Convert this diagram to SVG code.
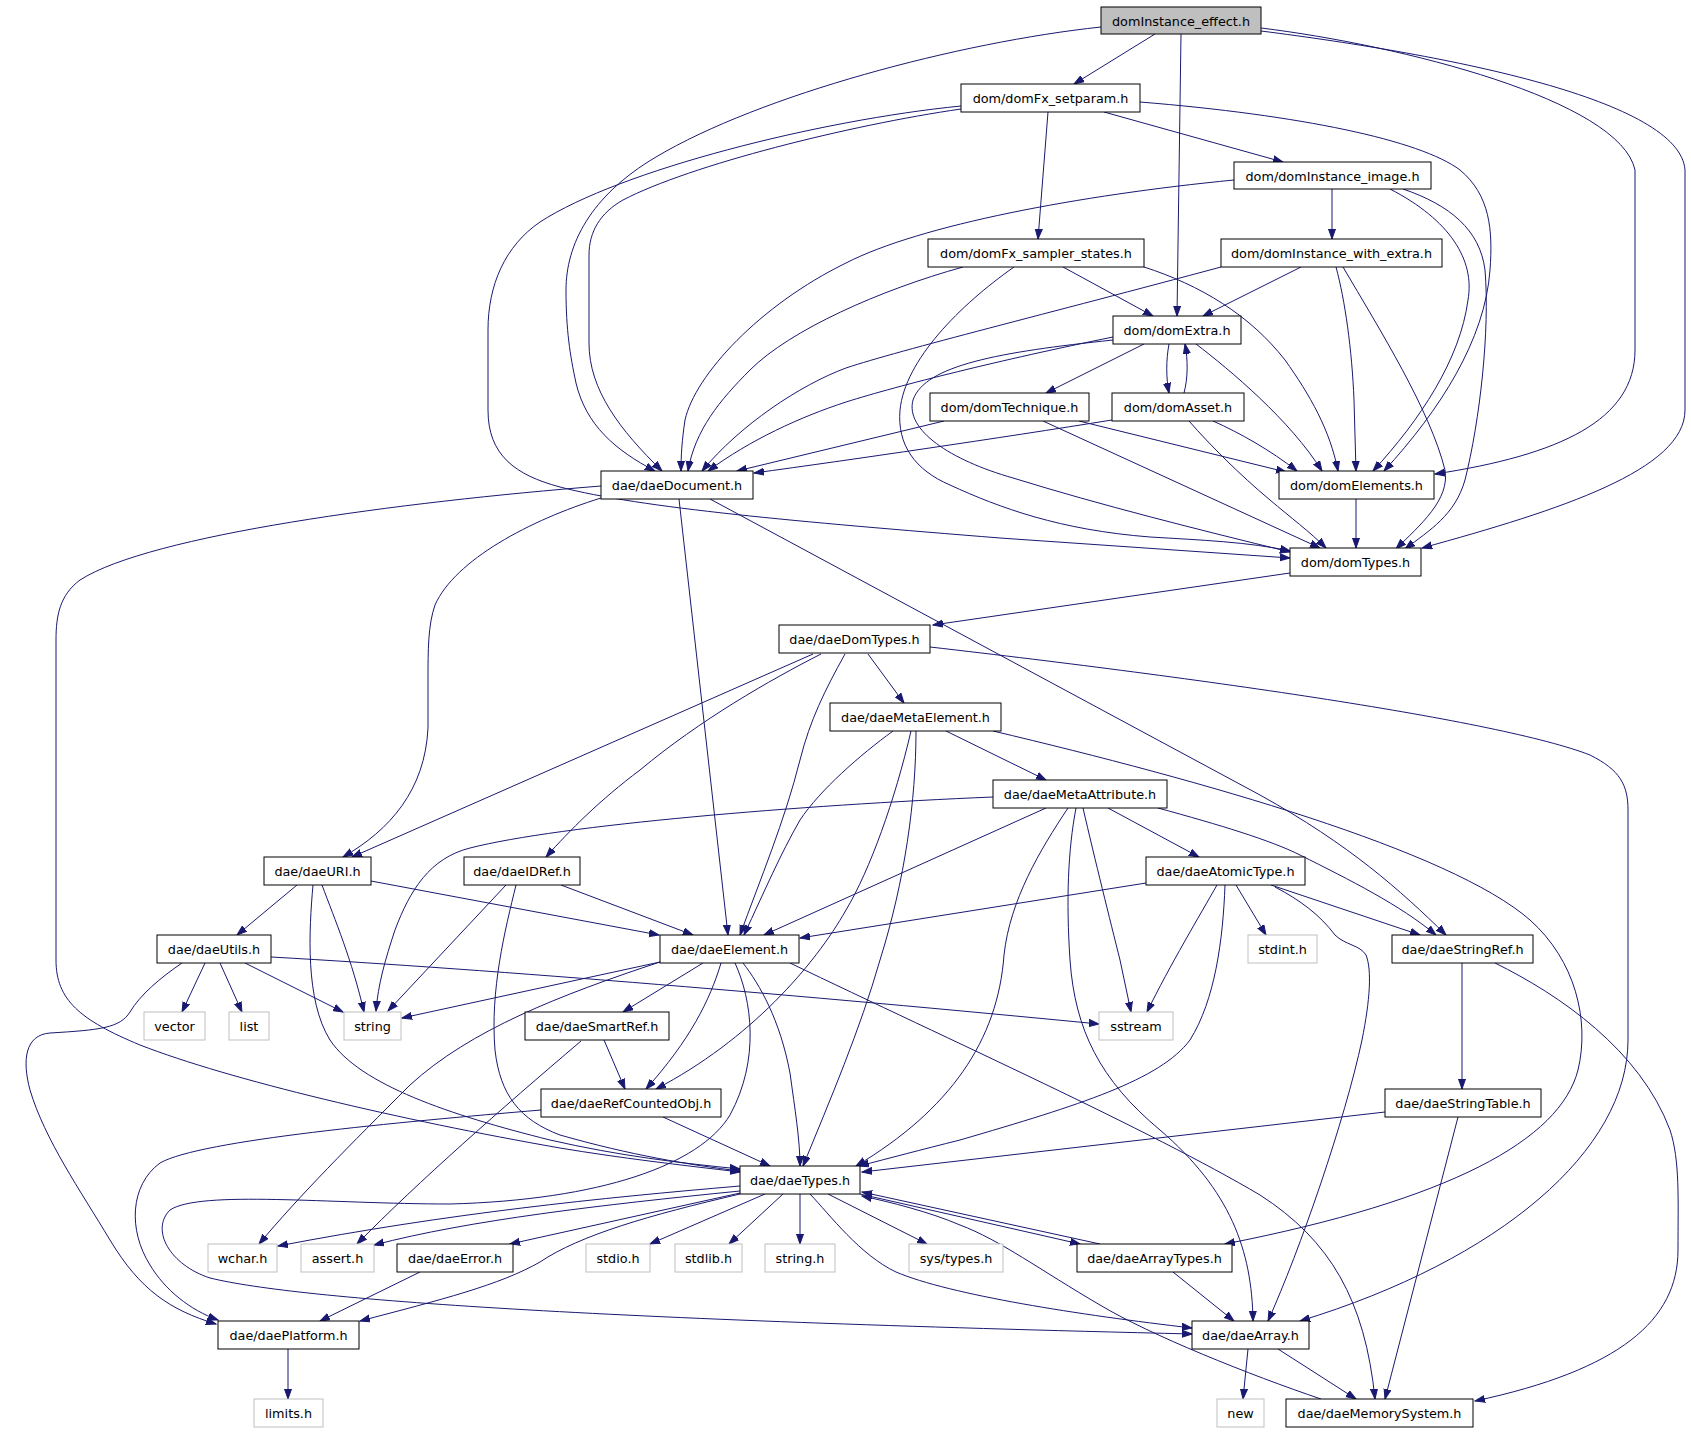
<svg xmlns="http://www.w3.org/2000/svg" width="1691" height="1432" viewBox="0 0 1691 1432">
<defs>
<style>
.n rect{fill:#ffffff;stroke:#000000;stroke-width:1}
.g rect{fill:#ffffff;stroke:#bfbfbf;stroke-width:1}
.r rect{fill:#bfbfbf;stroke:#000000;stroke-width:1}
text{font-family:"DejaVu Sans","Liberation Sans",sans-serif;font-size:12.8px;text-anchor:middle;fill:#000000}
#edges path{fill:none;stroke:#191970;stroke-width:1;marker-end:url(#a)}
</style>
<marker id="a" markerWidth="11" markerHeight="9" refX="10" refY="4" orient="auto" markerUnits="userSpaceOnUse"><path d="M0,0.5 L10,4 L0,7.5 z" fill="#191970" stroke="#191970" stroke-width="1"/></marker>
</defs>
<rect x="0" y="0" width="1691" height="1432" fill="#ffffff"/>
<g id="edges">
<path d="M1155,34 L1074,84"/>
<path d="M1181,34 L1177,316"/>
<path d="M1101,27 C960,42 760,95 656,157 C590,196 566,245 566,290 C566,330 570,355 576,383 C586,425 615,450 655,471"/>
<path d="M1261,28 C1400,45 1620,100 1635,170 L1635,350 C1635,420 1560,455 1435,474"/>
<path d="M1261,31 C1450,55 1680,100 1685,170 L1685,410 C1685,470 1560,510 1422,548"/>
<path d="M1104,112 L1283,162"/>
<path d="M1048,112 L1038,239"/>
<path d="M961,109 C850,125 690,165 623,200 C600,213 589,232 589,255 L589,343 C589,390 620,430 662,471"/>
<path d="M961,106 C820,120 620,170 540,222 C505,246 488,285 488,330 L488,410 C488,455 515,475 560,487 C640,508 800,522 1000,538 L1290,558"/>
<path d="M1140,102 C1300,115 1420,140 1460,170 C1490,195 1493,230 1490,270 C1485,340 1440,410 1384,471"/>
<path d="M1332,189 L1332,239"/>
<path d="M1234,180 C1080,195 920,225 846,263 C760,305 695,375 685,420 C682,440 681,455 681,471"/>
<path d="M1390,189 C1450,220 1475,260 1468,300 C1460,360 1420,420 1373,471"/>
<path d="M1403,189 C1450,205 1480,230 1485,270 C1490,330 1480,420 1465,480 C1455,515 1430,530 1405,549"/>
<path d="M1063,267 L1153,316"/>
<path d="M963,267 C880,290 790,330 750,370 C720,400 695,430 688,471"/>
<path d="M1144,267 C1200,285 1250,315 1285,360 C1310,395 1330,430 1338,471"/>
<path d="M1014,267 C960,305 905,360 900,410 C897,445 915,470 950,485 C1000,508 1060,530 1150,537 C1200,540 1250,542 1290,551"/>
<path d="M1301,267 L1203,316"/>
<path d="M1221,267 C1050,313 900,350 846,368 C800,385 740,425 702,471"/>
<path d="M1336,267 C1345,300 1352,350 1354,400 L1356,471"/>
<path d="M1343,267 C1380,330 1430,410 1445,470 C1450,500 1420,525 1396,549"/>
<path d="M1144,344 L1046,393"/>
<path d="M1169,344 C1166,360 1166,378 1169,393"/>
<path d="M1184,393 C1188,378 1188,360 1185,344"/>
<path d="M1196,344 C1230,370 1290,420 1322,471"/>
<path d="M1113,337 C1000,360 900,385 846,402 C800,417 750,440 708,471"/>
<path d="M1113,340 C1000,352 925,365 913,400 C905,430 950,460 1013,478 C1100,505 1200,530 1290,552"/>
<path d="M944,421 L737,471"/>
<path d="M1079,421 L1286,472"/>
<path d="M1043,421 L1320,548"/>
<path d="M1112,420 C1000,438 850,460 754,473"/>
<path d="M1213,421 C1240,433 1270,450 1297,471"/>
<path d="M1189,421 C1210,445 1240,475 1270,500 C1290,517 1310,532 1326,548"/>
<path d="M1356,499 L1356,548"/>
<path d="M601,498 C530,520 455,560 435,605 C428,625 428,650 428,680 L428,728 C425,790 390,830 343,857"/>
<path d="M679,499 L728,935"/>
<path d="M710,499 L1260,795 C1350,845 1400,890 1446,935"/>
<path d="M601,486 C400,502 150,535 80,580 C60,595 56,615 56,640 L56,960 C56,1000 80,1020 140,1045 C230,1080 400,1120 560,1148 C620,1158 680,1165 740,1172"/>
<path d="M813,654 L352,857"/>
<path d="M821,654 C770,680 700,720 640,770 C600,800 570,830 546,857"/>
<path d="M845,654 C825,690 810,720 800,760 C785,820 760,880 740,935"/>
<path d="M868,654 L904,703"/>
<path d="M930,647 C1200,678 1500,720 1590,755 C1620,770 1628,785 1628,810 L1628,1040 C1628,1150 1500,1260 1300,1321"/>
<path d="M893,731 C860,755 820,790 800,820 C780,855 765,890 744,935"/>
<path d="M911,731 C895,800 870,870 846,910 C815,965 750,1040 656,1089"/>
<path d="M916,731 C916,800 905,880 880,960 C860,1030 830,1100 803,1166"/>
<path d="M946,731 L1046,780"/>
<path d="M993,731 C1200,780 1450,850 1530,920 C1575,960 1590,1020 1578,1070 C1560,1140 1450,1200 1225,1244"/>
<path d="M1046,808 L764,935"/>
<path d="M993,797 C800,805 560,825 470,848 C430,858 410,890 395,930 C385,960 378,985 376,1011"/>
<path d="M1068,808 C1040,850 1010,900 1004,955 C998,1040 950,1110 856,1166"/>
<path d="M1076,808 C1068,850 1066,900 1070,960 C1075,1030 1100,1080 1160,1130 C1230,1190 1252,1250 1253,1321"/>
<path d="M1083,808 C1095,860 1110,920 1120,960 L1131,1012"/>
<path d="M1108,808 L1199,857"/>
<path d="M1158,808 C1220,825 1270,840 1300,855 C1350,880 1400,905 1436,935"/>
<path d="M297,885 L237,935"/>
<path d="M322,885 C335,920 352,960 364,1012"/>
<path d="M313,885 C309,930 305,1000 330,1040 C360,1085 450,1115 550,1140 C620,1156 680,1163 740,1169"/>
<path d="M371,881 L659,935"/>
<path d="M561,885 L693,935"/>
<path d="M506,885 L388,1011"/>
<path d="M516,885 C505,930 490,990 495,1050 C500,1095 520,1120 560,1135 C630,1155 690,1165 740,1171"/>
<path d="M1146,883 L800,938"/>
<path d="M1217,885 C1200,915 1170,965 1147,1012"/>
<path d="M1225,885 C1223,940 1215,1000 1190,1040 C1160,1080 1080,1105 960,1140 C920,1150 890,1158 859,1166"/>
<path d="M1236,885 L1266,935"/>
<path d="M1271,885 L1420,935"/>
<path d="M1275,887 C1300,900 1320,915 1335,935 C1345,945 1360,945 1366,955 C1372,970 1370,1000 1362,1040 C1345,1120 1300,1250 1268,1321"/>
<path d="M205,963 L182,1012"/>
<path d="M220,963 L242,1012"/>
<path d="M245,963 L343,1012"/>
<path d="M271,957 C500,970 800,995 1099,1024"/>
<path d="M182,963 C160,978 140,995 130,1012 C120,1028 100,1030 50,1033 C25,1035 22,1060 30,1090 C45,1140 80,1190 110,1240 C140,1290 170,1310 216,1324"/>
<path d="M660,962 C560,995 470,1030 410,1085 C350,1145 300,1195 259,1244"/>
<path d="M660,962 L402,1018"/>
<path d="M703,963 L623,1012"/>
<path d="M721,963 C710,1000 690,1040 646,1089"/>
<path d="M743,963 C760,985 780,1020 790,1073 C795,1110 800,1140 800,1166"/>
<path d="M735,963 C752,1000 760,1060 730,1115 C700,1165 600,1200 450,1204 C330,1204 200,1190 170,1210 C150,1230 170,1265 210,1278 C300,1300 600,1320 1192,1334"/>
<path d="M790,963 C950,1040 1150,1130 1260,1195 C1330,1240 1365,1300 1375,1399"/>
<path d="M604,1040 L625,1089"/>
<path d="M581,1041 C500,1110 420,1180 357,1244"/>
<path d="M663,1117 L770,1166"/>
<path d="M541,1110 C400,1122 200,1140 160,1163 C130,1185 128,1230 150,1265 C165,1290 190,1310 218,1320"/>
<path d="M1385,1112 L862,1172"/>
<path d="M1458,1117 L1385,1399"/>
<path d="M1462,963 L1462,1089"/>
<path d="M1495,963 C1560,995 1640,1050 1670,1130 C1680,1160 1678,1200 1678,1250 C1678,1320 1620,1370 1475,1401"/>
<path d="M740,1186 C600,1198 450,1213 278,1246"/>
<path d="M740,1191 C600,1205 470,1220 374,1245"/>
<path d="M740,1193 L510,1244"/>
<path d="M740,1194 C650,1215 580,1235 540,1262 C500,1285 440,1300 360,1321"/>
<path d="M765,1194 L650,1244"/>
<path d="M783,1194 L729,1244"/>
<path d="M800,1194 L800,1244"/>
<path d="M828,1194 L927,1244"/>
<path d="M810,1194 C830,1215 860,1255 896,1272 C950,1295 1080,1315 1192,1328"/>
<path d="M860,1194 L1080,1244"/>
<path d="M1100,1244 L862,1192"/>
<path d="M1321,1399 C1250,1375 1150,1335 1100,1305 C1040,1270 1000,1240 960,1225 C930,1212 890,1202 862,1196"/>
<path d="M1173,1272 L1234,1321"/>
<path d="M1248,1349 L1243,1399"/>
<path d="M1278,1349 L1356,1399"/>
<path d="M420,1272 L320,1321"/>
<path d="M288,1349 L288,1399"/>
<path d="M1290,573 L933,625"/>
</g>
<g id="domInstance_effect" class="r"><rect x="1101" y="7" width="160" height="27"/><text x="1181" y="26">domInstance_effect.h</text></g>
<g id="domFx_setparam" class="n"><rect x="961" y="84" width="179" height="28"/><text x="1050.5" y="103">dom/domFx_setparam.h</text></g>
<g id="domInstance_image" class="n"><rect x="1234" y="162" width="197" height="27"/><text x="1332.5" y="181">dom/domInstance_image.h</text></g>
<g id="domFx_sampler_states" class="n"><rect x="928" y="239" width="216" height="28"/><text x="1036" y="258">dom/domFx_sampler_states.h</text></g>
<g id="domInstance_with_extra" class="n"><rect x="1221" y="239" width="221" height="28"/><text x="1331.5" y="258">dom/domInstance_with_extra.h</text></g>
<g id="domExtra" class="n"><rect x="1113" y="316" width="128" height="28"/><text x="1177" y="335">dom/domExtra.h</text></g>
<g id="domTechnique" class="n"><rect x="930" y="393" width="159" height="28"/><text x="1009.5" y="412">dom/domTechnique.h</text></g>
<g id="domAsset" class="n"><rect x="1112" y="393" width="132" height="28"/><text x="1178" y="412">dom/domAsset.h</text></g>
<g id="daeDocument" class="n"><rect x="601" y="471" width="152" height="28"/><text x="677" y="490">dae/daeDocument.h</text></g>
<g id="domElements" class="n"><rect x="1279" y="471" width="155" height="28"/><text x="1356.5" y="490">dom/domElements.h</text></g>
<g id="domTypes" class="n"><rect x="1290" y="548" width="131" height="28"/><text x="1355.5" y="567">dom/domTypes.h</text></g>
<g id="daeDomTypes" class="n"><rect x="779" y="625" width="151" height="28"/><text x="854.5" y="644">dae/daeDomTypes.h</text></g>
<g id="daeMetaElement" class="n"><rect x="830" y="703" width="171" height="28"/><text x="915.5" y="722">dae/daeMetaElement.h</text></g>
<g id="daeMetaAttribute" class="n"><rect x="993" y="780" width="174" height="28"/><text x="1080" y="799">dae/daeMetaAttribute.h</text></g>
<g id="daeURI" class="n"><rect x="264" y="857" width="107" height="28"/><text x="317.5" y="876">dae/daeURI.h</text></g>
<g id="daeIDRef" class="n"><rect x="464" y="857" width="116" height="28"/><text x="522" y="876">dae/daeIDRef.h</text></g>
<g id="daeAtomicType" class="n"><rect x="1146" y="857" width="159" height="28"/><text x="1225.5" y="876">dae/daeAtomicType.h</text></g>
<g id="daeUtils" class="n"><rect x="157" y="935" width="114" height="28"/><text x="214" y="954">dae/daeUtils.h</text></g>
<g id="daeElement" class="n"><rect x="660" y="935" width="139" height="28"/><text x="729.5" y="954">dae/daeElement.h</text></g>
<g id="stdint" class="g"><rect x="1248" y="935" width="69" height="28"/><text x="1282.5" y="954">stdint.h</text></g>
<g id="daeStringRef" class="n"><rect x="1392" y="935" width="141" height="28"/><text x="1462.5" y="954">dae/daeStringRef.h</text></g>
<g id="vector" class="g"><rect x="144" y="1012" width="61" height="28"/><text x="174.5" y="1031">vector</text></g>
<g id="list" class="g"><rect x="229" y="1012" width="40" height="28"/><text x="249" y="1031">list</text></g>
<g id="string" class="g"><rect x="344" y="1012" width="57" height="28"/><text x="372.5" y="1031">string</text></g>
<g id="daeSmartRef" class="n"><rect x="525" y="1012" width="144" height="28"/><text x="597" y="1031">dae/daeSmartRef.h</text></g>
<g id="sstream" class="g"><rect x="1099" y="1012" width="74" height="28"/><text x="1136" y="1031">sstream</text></g>
<g id="daeRefCountedObj" class="n"><rect x="541" y="1089" width="180" height="28"/><text x="631" y="1108">dae/daeRefCountedObj.h</text></g>
<g id="daeStringTable" class="n"><rect x="1385" y="1089" width="156" height="28"/><text x="1463" y="1108">dae/daeStringTable.h</text></g>
<g id="daeTypes" class="n"><rect x="740" y="1166" width="120" height="28"/><text x="800" y="1185">dae/daeTypes.h</text></g>
<g id="wchar" class="g"><rect x="208" y="1244" width="69" height="28"/><text x="242.5" y="1263">wchar.h</text></g>
<g id="assert" class="g"><rect x="301" y="1244" width="73" height="28"/><text x="337.5" y="1263">assert.h</text></g>
<g id="daeError" class="n"><rect x="397" y="1244" width="116" height="28"/><text x="455" y="1263">dae/daeError.h</text></g>
<g id="stdio" class="g"><rect x="586" y="1244" width="64" height="28"/><text x="618" y="1263">stdio.h</text></g>
<g id="stdlib" class="g"><rect x="675" y="1244" width="67" height="28"/><text x="708.5" y="1263">stdlib.h</text></g>
<g id="string_h" class="g"><rect x="765" y="1244" width="70" height="28"/><text x="800" y="1263">string.h</text></g>
<g id="sys_types" class="g"><rect x="909" y="1244" width="94" height="28"/><text x="956" y="1263">sys/types.h</text></g>
<g id="daeArrayTypes" class="n"><rect x="1077" y="1244" width="155" height="28"/><text x="1154.5" y="1263">dae/daeArrayTypes.h</text></g>
<g id="daePlatform" class="n"><rect x="218" y="1321" width="141" height="28"/><text x="288.5" y="1340">dae/daePlatform.h</text></g>
<g id="daeArray" class="n"><rect x="1192" y="1321" width="117" height="28"/><text x="1250.5" y="1340">dae/daeArray.h</text></g>
<g id="limits" class="g"><rect x="254" y="1399" width="69" height="28"/><text x="288.5" y="1418">limits.h</text></g>
<g id="new" class="g"><rect x="1217" y="1399" width="47" height="28"/><text x="1240.5" y="1418">new</text></g>
<g id="daeMemorySystem" class="n"><rect x="1286" y="1399" width="187" height="28"/><text x="1379.5" y="1418">dae/daeMemorySystem.h</text></g>
</svg>
